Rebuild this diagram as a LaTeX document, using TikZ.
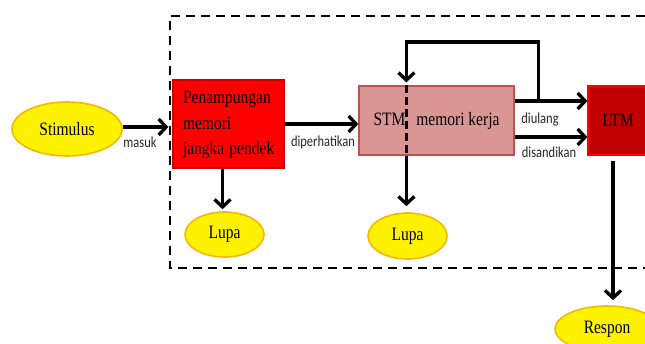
\documentclass[tikz,border=0pt]{standalone}
\usepackage{fontspec}
\setmainfont{Liberation Serif}
\newfontfamily\lblfont{Carlito}
\usetikzlibrary{arrows.meta,shapes.geometric}
\newcommand{\vst}[1]{\scalebox{1}[1.22]{#1}}
\definecolor{ovalrim}{HTML}{F5B800}
\definecolor{stmfill}{HTML}{D99694}
\definecolor{stmrim}{HTML}{C0504D}
\definecolor{ltmfill}{HTML}{C00000}
\begin{document}
\begin{tikzpicture}[x=1pt,y=1pt,
  oval/.style={ellipse, fill=yellow, draw=ovalrim, line width=1.6pt, inner sep=0pt,
    font=\fontsize{15.5}{18}\selectfont},
  redbox/.style={rectangle, line width=1.2pt, font=\fontsize{15.5}{18}\selectfont},
  arr/.style={line width=3.3pt, -{Straight Barb[length=7.5pt,width=16pt]}},
  frame/.style={line width=2.5pt, dash pattern=on 9pt off 6pt},
  lbl/.style={font=\lblfont\fontsize{12.5}{14}\selectfont, text=black!85, inner sep=0pt}]
\useasboundingbox (0,0) rectangle (645,343);
\clip (0,0) rectangle (645,343);

% dashed frame (open to the right)
\draw[frame] (660,327) -- (170,327) -- (170,75) -- (660,75);

% nodes
\node[oval, minimum width=110pt, minimum height=54pt] (stim) at (67,214) {\vst{Stimulus}};
\node[redbox, fill=red, draw=red!80!black, minimum width=111pt, minimum height=88pt,
      inner xsep=10pt, text width=91pt, align=left] (box1) at (228.5,219)
  {\vst{\fontsize{15.5}{20.5}\selectfont\begin{tabular}{@{}l@{}}Penampungan\\memori\\jangka pendek\end{tabular}}};
\node[oval, minimum width=79pt, minimum height=45pt] (lupa1) at (224.5,108.5) {\vst{Lupa}};
\node[redbox, fill=stmfill, draw=stmrim, minimum width=155pt, minimum height=69pt] (stm) at (436.5,222.5)
  {\vst{STM\hspace{11pt}memori kerja}};
\node[oval, minimum width=79pt, minimum height=46pt] (lupa2) at (407.5,107) {\vst{Lupa}};
\node[redbox, fill=ltmfill, draw=red, minimum width=60pt, minimum height=69pt] (ltm) at (618,222.5)
  {\vst{LTM}};
\node[oval, minimum width=104pt, minimum height=46pt] (respon) at (607,14) {\vst{Respon}};

% helper coordinates
\coordinate (up) at ([yshift=19.5pt]stm.east);
\coordinate (dn) at ([yshift=-16.5pt]stm.east);
\coordinate (stmtop) at ([xshift=48pt]stm.north west);
\coordinate (stmbot) at ([xshift=48pt]stm.south west);
\coordinate (loopstart) at ([xshift=24pt]up);

% connectors
\draw[arr, shorten >=4pt] ([yshift=2pt]stim.east) -- ([yshift=2pt]stim.east -| box1.west);
\draw[arr] (box1.east) -- (box1.east -| stm.west);
\draw[arr, shorten >=2pt] ([xshift=-6pt]box1.south) -- ([xshift=-6pt]box1.south |- lupa1.north);
\draw[arr] (up) -- (up -| ltm.west);
\draw[arr] (dn) -- (dn -| ltm.west);
\draw[arr, shorten >=3pt] (loopstart) -- ++(0,59) -| (stmtop);
\draw[line width=2.8pt, dash pattern=on 8pt off 4pt] (stmtop) -- (stmbot);
\draw[arr, shorten >=6pt] (stmbot) -- (stmbot |- lupa2.north);
\draw[arr, shorten >=5pt] ([xshift=-5pt,yshift=-5pt]ltm.south) -- ([xshift=-5pt]ltm.south |- respon.north);

% labels
\node[lbl] (lmasuk) at (140,201) {\vst{masuk}};
\node[lbl] (lperh) at (323,201) {\vst{diperhatikan}};
\node[lbl] (lulang) at (540,223) {\vst{diulang}};
\node[lbl] (lsandi) at (549,191) {\vst{disandikan}};
\end{tikzpicture}
\end{document}
